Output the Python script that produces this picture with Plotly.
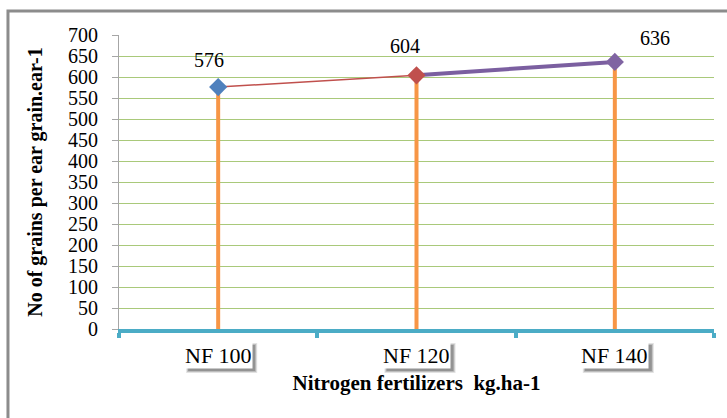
import plotly.graph_objects as go

# Nitrogen fertilizer treatments and grain counts per ear
categories = ["NF 100", "NF 120", "NF 140"]
grains = [576, 604, 636]
marker_colors = ["#4F81BD", "#C0504D", "#8064A2"]
segment_colors = ["#C0504D", "#7B5FA0"]
segment_widths = [1.5, 4]
y_ticks = list(range(0, 701, 50))

xs = list(range(1, len(categories) + 1))
FONT = "Liberation Serif, Times New Roman, serif"

fig = go.Figure()

# Orange drop lines from the axis up to each value
for x, v in zip(xs, grains):
    fig.add_trace(go.Scatter(x=[x, x], y=[0, v], mode="lines",
                             line=dict(color="#F79646", width=4),
                             hoverinfo="skip", showlegend=False))

# Connecting segments between the treatments
for i in range(len(xs) - 1):
    fig.add_trace(go.Scatter(x=[xs[i], xs[i + 1]], y=[grains[i], grains[i + 1]],
                             mode="lines",
                             line=dict(color=segment_colors[i], width=segment_widths[i]),
                             showlegend=False))

# Diamond markers
fig.add_trace(go.Scatter(x=xs, y=grains, mode="markers",
                         marker=dict(symbol="diamond", size=14, color=marker_colors,
                                     line=dict(width=0)),
                         showlegend=False))

# Value labels
label_shift = [(-9, 27), (-12, 29), (40, 24)]
for x, v, (dx, dy) in zip(xs, grains, label_shift):
    fig.add_annotation(x=x, y=v, text=str(v), showarrow=False,
                       xshift=dx, yshift=dy,
                       font=dict(family=FONT, size=20, color="#000000"))

# Category labels in white boxes with a soft drop shadow
for x, c in zip(xs, categories):
    for pad, alpha in [(3, 0.15), (2, 0.22), (1, 0.32)]:
        fig.add_shape(type="rect", xref="x", yref="paper",
                      xsizemode="pixel", ysizemode="pixel",
                      xanchor=x, yanchor=0,
                      x0=-32 + 3 - pad, x1=33 + 3 + pad,
                      y0=-38 - 3 - pad, y1=-14 - 3 + pad,
                      fillcolor=f"rgba(60,60,60,{alpha})", line=dict(width=0))
    fig.add_annotation(x=x, y=0, yref="y", text=c, showarrow=False,
                       yshift=-26, bgcolor="#FFFFFF",
                       font=dict(family=FONT, size=22, color="#000000"),
                       borderpad=0)

# Outer frame
fig.add_shape(type="rect", xref="paper", yref="paper",
              x0=-0.1866, x1=1.06, y0=-0.4, y1=1.0816,
              line=dict(color="#8C8C8C", width=3), layer="below")

fig.update_layout(
    width=727, height=418,
    margin=dict(l=119, r=13, t=35, b=89),
    paper_bgcolor="#FFFFFF", plot_bgcolor="#FFFFFF",
    font=dict(family=FONT, color="#000000"),
    xaxis=dict(range=[0.5, 3.5], tickvals=[0.5, 1.5, 2.5, 3.5],
               showticklabels=False, showgrid=False, zeroline=False,
               showline=True, linecolor="#4BACC6", linewidth=4,
               ticks="outside", ticklen=5, tickwidth=4, tickcolor="#4BACC6",
               title=dict(text="<b>Nitrogen fertilizers  kg.ha-1</b>",
                          font=dict(family=FONT, size=21), standoff=39)),
    yaxis=dict(range=[0, 700], tickvals=y_ticks, showgrid=True,
               gridcolor="#A9C97A", gridwidth=1, zeroline=False,
               showline=True, linecolor="#A6A6A6", linewidth=1,
               ticks="outside", ticklen=6, tickcolor="#A6A6A6",
               ticklabelstandoff=10,
               tickfont=dict(family=FONT, size=20),
               title=dict(text="<b>No of grains per ear grain.ear-1</b>",
                          font=dict(family=FONT, size=20), standoff=20)),
)

fig.write_html("out.html")
